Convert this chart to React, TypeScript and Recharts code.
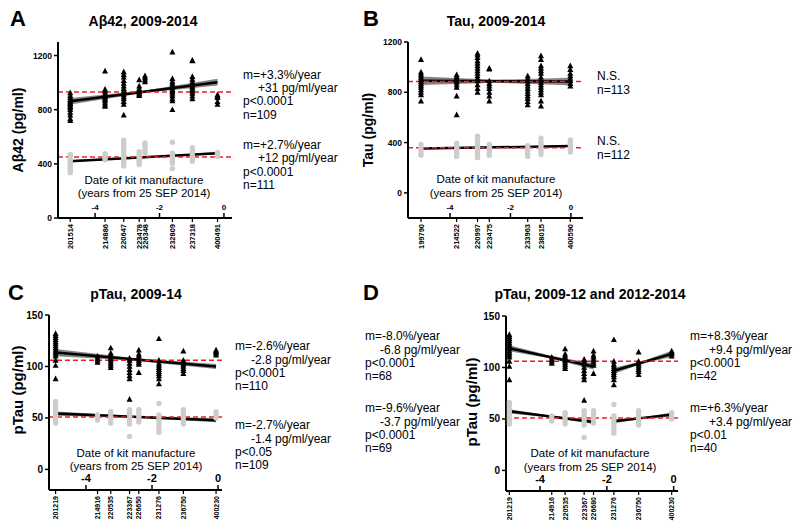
import React from 'react';
import { ComposedChart, XAxis, YAxis, Scatter, Line, Area, ReferenceLine } from 'recharts';

const FONT = "Arial, 'Liberation Sans', Helvetica, sans-serif";
const yearTicks = [-4, -2, 0];

// ---------- Panel A : Abeta42 ----------
const lotsA = ['201514', '214886', '220647', '223478', '226348', '232809', '237318', '400491'];
const lotYearsA = [-4.77, -3.69, -3.11, -2.63, -2.45, -1.6, -0.98, -0.2];
const abetaHigh = [
  [720, 735, 760, 780, 800, 815, 825, 835, 845, 855, 865, 875, 890, 905, 925],
  [1085, 950, 935, 920, 905, 895, 885, 875, 865, 850, 835, 825],
  [1080, 1060, 1040, 1015, 995, 975, 955, 940, 925, 910, 895, 880, 860, 840, 760],
  [1020, 975, 955, 945, 935, 925, 915, 905],
  [1050, 1035, 1020, 1005],
  [1225, 1030, 1010, 995, 980, 965, 950, 940, 930, 915, 900, 880, 865, 800],
  [1165, 1160, 1045, 1025, 1005, 995, 985, 975, 965, 950, 935, 920, 900, 880],
  [910, 900, 890, 860, 840],
];
const abetaLow = [
  [335, 350, 365, 380, 395, 410, 425, 440, 455, 470],
  [430, 445, 460, 475],
  [385, 405, 420, 440, 455, 470, 490, 510, 530, 555, 575],
  [395, 410, 425, 440, 455, 470, 490],
  [480, 500, 520, 540, 555],
  [365, 405, 420, 435, 450, 465, 480, 560],
  [420, 440, 455, 470, 485, 500, 520],
  [455, 470, 485],
];
const abetaHighFit = { x: [-4.77, -0.2], y: [862, 1003], bx: [-4.77, -2.5, -0.2], lo: [838, 924, 978], hi: [886, 940, 1028] };
const abetaLowFit = { x: [-4.77, -0.2], y: [420, 478], bx: [-4.77, -2.5, -0.2], lo: [411, 446, 469], hi: [429, 452, 487] };
const abetaRefs = [930, 450];

// ---------- Panel B : Tau ----------
const lotsB = ['199790', '214522', '220997', '223475', '233963', '238015', '400590'];
const lotYearsB = [-4.96, -3.78, -3.09, -2.7, -1.43, -0.99, -0.02];
const tauHigh = [
  [1060, 960, 945, 930, 915, 900, 885, 870, 855, 840, 820, 800, 780, 730],
  [940, 925, 910, 895, 880, 860, 840, 770, 620],
  [1110, 1095, 1075, 1050, 1030, 1010, 990, 970, 950, 930, 910, 890, 860, 830, 800],
  [990, 985, 890, 870, 850, 830, 800, 770, 730],
  [930, 910, 890, 870, 850, 830, 810, 790, 770, 750, 725, 700],
  [1090, 1060, 1010, 990, 970, 950, 920, 900, 880, 860, 840, 820, 800, 780, 730, 690],
  [1010, 980, 950, 930, 910, 890, 870, 850],
];
const tauLow = [
  [300, 320, 340, 360, 385],
  [290, 310, 330, 350, 370, 395],
  [280, 300, 320, 340, 360, 380, 400, 420, 450],
  [300, 320, 340, 360, 385],
  [290, 310, 330, 350, 375],
  [305, 325, 345, 365, 385, 405, 435],
  [325, 345, 365, 385, 400, 420],
];
const tauHighFit = { x: [-4.96, -0.02], y: [892, 885], bx: [-4.96, -2.5, -0.02], lo: [858, 876, 855], hi: [926, 900, 915] };
const tauLowFit = { x: [-4.96, -0.02], y: [352, 372], bx: [-4.96, -2.5, -0.02], lo: [344, 359, 364], hi: [360, 365, 380] };
const tauRefs = [885, 358];

// ---------- Panels C & D : pTau ----------
const lotsC = ['201219', '214916', '220535', '223367', '226650', '231276', '236750', '400230'];
const lotsD = ['201219', '214916', '220535', '223367', '226680', '231276', '236750', '400230'];
const lotYearsP = [-4.92, -3.65, -3.25, -2.68, -2.4, -1.79, -1.05, -0.06];
const ptauHigh = [
  [132, 130, 128, 126, 124, 122, 120, 118, 116, 114, 112, 110, 106, 101, 88],
  [110, 108, 106, 104],
  [118, 113, 111, 109, 107, 105, 103, 101, 99],
  [108, 106, 103, 100, 97, 94, 91, 88, 68],
  [116, 112, 110, 108, 106, 104, 102, 94],
  [127, 106, 103, 101, 99, 97, 95, 93, 91, 88, 83],
  [115, 106, 104, 102, 100, 98, 96, 93],
  [116, 115, 114, 113, 111],
];
const ptauLow = [
  [45, 48, 51, 54, 57, 60, 63, 66],
  [48, 50, 53],
  [45, 48, 51, 54, 56],
  [32, 44, 47, 50, 53, 56, 58],
  [46, 49, 52, 55, 58],
  [36, 39, 42, 45, 48, 51, 53, 64],
  [44, 47, 50, 53, 56, 58],
  [50, 53, 56],
];
const ptauHighFitC = { x: [-4.92, -0.06], y: [113.5, 100], bx: [-4.92, -2.5, -0.06], lo: [110, 105.6, 97.5], hi: [117, 108, 102.5] };
const ptauLowFitC = { x: [-4.92, -0.06], y: [54.2, 47.7], bx: [-4.92, -2.5, -0.06], lo: [52.2, 50.2, 45.7], hi: [56.2, 51.8, 49.7] };
const ptauHighFitD1 = { x: [-4.92, -2.4], y: [118.7, 101], bx: [-4.92, -3.66, -2.4], lo: [115.7, 108.7, 98], hi: [121.7, 111.1, 104] };
const ptauHighFitD2 = { x: [-1.79, -0.06], y: [96.8, 113.2], bx: [-1.79, -0.92, -0.06], lo: [93.8, 103.8, 110.2], hi: [99.8, 106.2, 116.2] };
const ptauLowFitD1 = { x: [-4.92, -2.4], y: [57.4, 47.1], bx: [-4.92, -3.66, -2.4], lo: [55.4, 51.5, 45.1], hi: [59.4, 53, 49.1] };
const ptauLowFitD2 = { x: [-1.79, -0.06], y: [47.7, 54.2], bx: [-1.79, -0.92, -0.06], lo: [45.7, 50.2, 52.2], hi: [49.7, 51.6, 56.2] };
const ptauRefs = [106, 51];

type Fit = { x: number[]; y: number[]; bx: number[]; lo: number[]; hi: number[] };

type PanelCfg = {
  left: number; top: number; width: number; height: number;
  margin: { top: number; right: number; bottom: number; left: number };
  yWidth: number; xHeight: number;
  xDomain: [number, number]; yDomain: [number, number]; yTicks: number[];
  yFont: number; yearFont: number; lotFont: number;
  lots: string[]; lotYears: number[];
  high: number[][]; low: number[][];
  fits: Fit[]; refs: number[];
};

const toPoints = (xs: number[], vals: number[][]) =>
  xs.flatMap((x, i) => vals[i].map((v) => ({ x, y: v })));

const Tri = (p: any) => {
  const { cx, cy } = p;
  if (cx == null || cy == null) return <g />;
  const s = 3;
  return <path d={`M${cx},${cy - s * 1.1}L${cx + s},${cy + s * 0.8}L${cx - s},${cy + s * 0.8}Z`} fill="#000" />;
};
const GrayDot = (p: any) => {
  const { cx, cy } = p;
  if (cx == null || cy == null) return <g />;
  return <circle cx={cx} cy={cy} r={2.7} fill="#cdcdcd" />;
};

function makeXTick(lotYears: number[], lots: string[], yearFont: number, lotFont: number) {
  return (props: any) => {
    const { x, y, payload } = props;
    const v = payload.value;
    if (yearTicks.indexOf(v) >= 0) {
      return (
        <g>
          <line x1={x} x2={x} y1={y} y2={y - 5} stroke="#000" strokeWidth={1.5} />
          <text x={x} y={y - 8} textAnchor="middle" fontSize={yearFont} fontWeight="bold" fontFamily={FONT} fill="#000">
            {String(v)}
          </text>
        </g>
      );
    }
    const li = lotYears.indexOf(v);
    return (
      <g>
        <line x1={x} x2={x} y1={y} y2={y + 4} stroke="#000" strokeWidth={1.2} />
        <text
          transform={`translate(${x + lotFont * 0.36},${y + 6}) rotate(-90)`}
          textAnchor="end"
          fontSize={lotFont}
          fontWeight="bold"
          fontFamily={FONT}
          fill="#000"
        >
          {li >= 0 ? lots[li] : ''}
        </text>
      </g>
    );
  };
}

function Panel({ cfg }: { cfg: PanelCfg }) {
  const hiPts = toPoints(cfg.lotYears, cfg.high);
  const loPts = toPoints(cfg.lotYears, cfg.low);
  const XTick = makeXTick(cfg.lotYears, cfg.lots, cfg.yearFont, cfg.lotFont);
  return (
    <div style={{ position: 'absolute', left: cfg.left, top: cfg.top }}>
      <ComposedChart width={cfg.width} height={cfg.height} margin={cfg.margin}>
        <XAxis
          type="number"
          dataKey="x"
          domain={cfg.xDomain}
          allowDataOverflow
          ticks={[...cfg.lotYears, ...yearTicks]}
          interval={0}
          tick={XTick}
          tickLine={false}
          tickSize={0}
          tickMargin={0}
          height={cfg.xHeight}
          axisLine={{ stroke: '#000', strokeWidth: 2 }}
        />
        <YAxis
          type="number"
          domain={cfg.yDomain}
          allowDataOverflow
          ticks={cfg.yTicks}
          interval={0}
          width={cfg.yWidth}
          tick={{ fontSize: cfg.yFont, fontWeight: 'bold', fill: '#000', fontFamily: FONT }}
          tickLine={{ stroke: '#000', strokeWidth: 1.5 }}
          tickSize={4}
          tickMargin={2}
          axisLine={{ stroke: '#000', strokeWidth: 2 }}
        />
        <Scatter data={loPts} dataKey="y" shape={GrayDot} isAnimationActive={false} />
        <Scatter data={hiPts} dataKey="y" shape={Tri} isAnimationActive={false} />
        {cfg.fits.map((f, i) => (
          <Area
            key={'band' + i}
            data={f.bx.map((x, j) => ({ x, band: [f.lo[j], f.hi[j]] }))}
            dataKey="band"
            type="linear"
            stroke="none"
            fill="#707070"
            fillOpacity={0.85}
            dot={false}
            activeDot={false}
            isAnimationActive={false}
          />
        ))}
        {cfg.fits.map((f, i) => (
          <Line
            key={'fit' + i}
            data={f.x.map((x, j) => ({ x, y: f.y[j] }))}
            dataKey="y"
            type="linear"
            stroke="#000"
            strokeWidth={2.5}
            dot={false}
            activeDot={false}
            isAnimationActive={false}
          />
        ))}
        {cfg.refs.map((r, i) => (
          <ReferenceLine key={'ref' + i} y={r} stroke="#e8202a" strokeWidth={1.5} strokeDasharray="5 3" />
        ))}
      </ComposedChart>
    </div>
  );
}

const panels: PanelCfg[] = [
  {
    left: 0, top: 0, width: 400, height: 264,
    margin: { top: 42, right: 168, bottom: 6, left: 8 },
    yWidth: 50, xHeight: 40,
    xDomain: [-5.15, 0.25], yDomain: [0, 1300], yTicks: [0, 400, 800, 1200],
    yFont: 8.5, yearFont: 8, lotFont: 7.5,
    lots: lotsA, lotYears: lotYearsA, high: abetaHigh, low: abetaLow,
    fits: [abetaHighFit, abetaLowFit], refs: abetaRefs,
  },
  {
    left: 350, top: 0, width: 450, height: 264,
    margin: { top: 42, right: 217, bottom: 6, left: 8 },
    yWidth: 50, xHeight: 40,
    xDomain: [-5.39, 0.4], yDomain: [-200, 1200], yTicks: [0, 400, 800, 1200],
    yFont: 8.5, yearFont: 8, lotFont: 7.5,
    lots: lotsB, lotYears: lotYearsB, high: tauHigh, low: tauLow,
    fits: [tauHighFit, tauLowFit], refs: tauRefs,
  },
  {
    left: 0, top: 264, width: 400, height: 264,
    margin: { top: 51, right: 178, bottom: 4, left: 0 },
    yWidth: 49, xHeight: 34,
    xDomain: [-5.12, 0.12], yDomain: [-20, 150], yTicks: [0, 50, 100, 150],
    yFont: 10, yearFont: 11, lotFont: 7,
    lots: lotsC, lotYears: lotYearsP, high: ptauHigh, low: ptauLow,
    fits: [ptauHighFitC, ptauLowFitC], refs: ptauRefs,
  },
  {
    left: 450, top: 264, width: 350, height: 264,
    margin: { top: 52, right: 122, bottom: 4, left: 6 },
    yWidth: 50, xHeight: 33,
    xDomain: [-5.02, 0.13], yDomain: [-20, 150], yTicks: [0, 50, 100, 150],
    yFont: 10, yearFont: 11, lotFont: 7,
    lots: lotsD, lotYears: lotYearsP, high: ptauHigh, low: ptauLow,
    fits: [ptauHighFitD1, ptauHighFitD2, ptauLowFitD1, ptauLowFitD2], refs: ptauRefs,
  },
];

type T = { t: string; x: number; y: number; s: number; b?: boolean; a?: 'start' | 'middle' | 'end'; r?: boolean };

const texts: T[] = [
  { t: 'A', x: 10, y: 18, s: 22, b: true },
  { t: 'Aβ42, 2009-2014', x: 143, y: 21, s: 14, b: true, a: 'middle' },
  { t: 'B', x: 363, y: 18, s: 22, b: true },
  { t: 'Tau, 2009-2014', x: 496, y: 21, s: 14, b: true, a: 'middle' },
  { t: 'C', x: 8, y: 292, s: 22, b: true },
  { t: 'pTau, 2009-14', x: 136, y: 294, s: 14, b: true, a: 'middle' },
  { t: 'D', x: 363, y: 292, s: 22, b: true },
  { t: 'pTau, 2009-12 and 2012-2014', x: 590, y: 294, s: 14, b: true, a: 'middle' },

  { t: 'Aβ42 (pg/ml)', x: 18, y: 130, s: 14, b: true, a: 'middle', r: true },
  { t: 'Tau (pg/ml)', x: 368, y: 130, s: 14, b: true, a: 'middle', r: true },
  { t: 'pTau (pg/ml)', x: 18, y: 390, s: 15, b: true, a: 'middle', r: true },
  { t: 'pTau (pg/ml)', x: 472, y: 402, s: 15, b: true, a: 'middle', r: true },

  { t: 'Date of kit manufacture', x: 144, y: 180, s: 11.5, a: 'middle' },
  { t: '(years from 25 SEP 2014)', x: 144, y: 193, s: 11.5, a: 'middle' },
  { t: 'Date of kit manufacture', x: 496, y: 179, s: 11.5, a: 'middle' },
  { t: '(years from 25 SEP 2014)', x: 496, y: 193, s: 11.5, a: 'middle' },
  { t: 'Date of kit manufacture', x: 136, y: 453, s: 11.5, a: 'middle' },
  { t: '(years from 25 SEP 2014)', x: 136, y: 466, s: 11.5, a: 'middle' },
  { t: 'Date of kit manufacture', x: 590, y: 453, s: 11.5, a: 'middle' },
  { t: '(years from 25 SEP 2014)', x: 590, y: 467, s: 11.5, a: 'middle' },

  { t: 'm=+3.3%/year', x: 243, y: 75, s: 12 },
  { t: '+31 pg/ml/year', x: 258, y: 88, s: 12 },
  { t: 'p<0.0001', x: 243, y: 101, s: 12 },
  { t: 'n=109', x: 243, y: 115, s: 12 },
  { t: 'm=+2.7%/year', x: 243, y: 145, s: 12 },
  { t: '+12 pg/ml/year', x: 258, y: 158, s: 12 },
  { t: 'p<0.0001', x: 243, y: 172, s: 12 },
  { t: 'n=111', x: 243, y: 185, s: 12 },

  { t: 'N.S.', x: 597, y: 76, s: 12 },
  { t: 'n=113', x: 597, y: 90, s: 12 },
  { t: 'N.S.', x: 597, y: 141, s: 12 },
  { t: 'n=112', x: 597, y: 155, s: 12 },

  { t: 'm=-2.6%/year', x: 235, y: 346, s: 12 },
  { t: '-2.8 pg/ml/year', x: 251, y: 359.5, s: 12 },
  { t: 'p<0.0001', x: 235, y: 373, s: 12 },
  { t: 'n=110', x: 235, y: 386, s: 12 },
  { t: 'm=-2.7%/year', x: 235, y: 425, s: 12 },
  { t: '-1.4 pg/ml/year', x: 251, y: 438.5, s: 12 },
  { t: 'p<0.05', x: 235, y: 452, s: 12 },
  { t: 'n=109', x: 235, y: 465, s: 12 },

  { t: 'm=-8.0%/year', x: 365, y: 336, s: 12 },
  { t: '-6.8 pg/ml/year', x: 380, y: 349.5, s: 12 },
  { t: 'p<0.0001', x: 365, y: 363, s: 12 },
  { t: 'n=68', x: 365, y: 376, s: 12 },
  { t: 'm=-9.6%/year', x: 365, y: 408, s: 12 },
  { t: '-3.7 pg/ml/year', x: 380, y: 421.5, s: 12 },
  { t: 'p<0.0001', x: 365, y: 435, s: 12 },
  { t: 'n=69', x: 365, y: 448, s: 12 },

  { t: 'm=+8.3%/year', x: 690, y: 336, s: 12 },
  { t: '+9.4 pg/ml/year', x: 709, y: 349.5, s: 12 },
  { t: 'p<0.0001', x: 690, y: 363, s: 12 },
  { t: 'n=42', x: 690, y: 376, s: 12 },
  { t: 'm=+6.3%/year', x: 690, y: 408, s: 12 },
  { t: '+3.4 pg/ml/year', x: 709, y: 421.5, s: 12 },
  { t: 'p<0.01', x: 690, y: 435, s: 12 },
  { t: 'n=40', x: 690, y: 448, s: 12 },
];

export default function App() {
  return (
    <div style={{ position: 'absolute', left: 0, top: 0, width: 800, height: 528, background: '#fff', overflow: 'hidden' }}>
      {panels.map((p, i) => (
        <Panel key={i} cfg={p} />
      ))}
      <svg width={800} height={528} style={{ position: 'absolute', left: 0, top: 0, pointerEvents: 'none' }}>
        {texts.map((t, i) => (
          <text
            key={i}
            x={t.r ? 0 : t.x}
            y={t.r ? 0 : t.y}
            dy="0.35em"
            transform={t.r ? `translate(${t.x},${t.y}) rotate(-90)` : undefined}
            textAnchor={t.a || 'start'}
            fontSize={t.s}
            fontWeight={t.b ? 'bold' : 'normal'}
            fontFamily={FONT}
            fill="#000"
          >
            {t.t}
          </text>
        ))}
      </svg>
    </div>
  );
}
